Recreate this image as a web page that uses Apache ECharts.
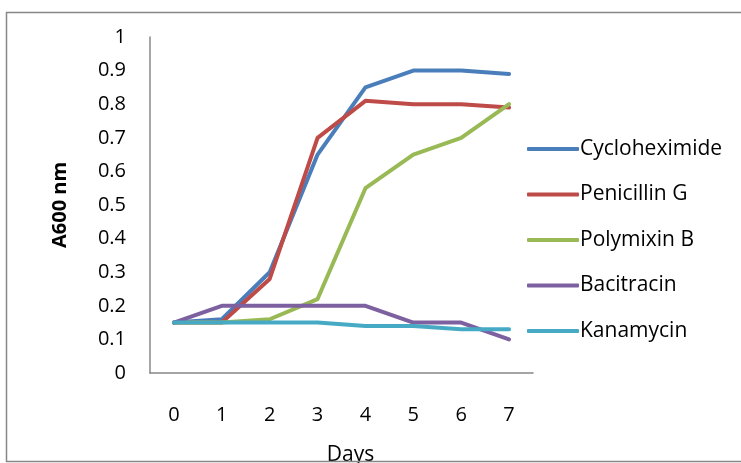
<!DOCTYPE html>
<html>
<head>
<meta charset="utf-8">
<script src="https://cdn.jsdelivr.net/npm/echarts@6/dist/echarts.min.js"></script>
<style>
  html, body { margin: 0; padding: 0; background: #fff; }
  #chart { width: 741px; height: 463px; }
</style>
</head>
<body>
<div id="chart"></div>
<script>
const days = ["0", "1", "2", "3", "4", "5", "6", "7"];
const yTicks = [0, 0.1, 0.2, 0.3, 0.4, 0.5, 0.6, 0.7, 0.8, 0.9, 1];

const cycloheximide = [0.15, 0.16, 0.3, 0.65, 0.85, 0.9, 0.9, 0.89];
const penicillinG = [0.15, 0.15, 0.28, 0.7, 0.81, 0.8, 0.8, 0.79];
const polymixinB = [0.15, 0.15, 0.16, 0.22, 0.55, 0.65, 0.7, 0.8];
const bacitracin = [0.15, 0.2, 0.2, 0.2, 0.2, 0.15, 0.15, 0.1];
const kanamycin = [0.15, 0.15, 0.15, 0.15, 0.14, 0.14, 0.13, 0.13];

const seriesNames = ["Cycloheximide", "Penicillin G", "Polymixin B", "Bacitracin", "Kanamycin"];
const seriesData = [cycloheximide, penicillinG, polymixinB, bacitracin, kanamycin];
const colors = ["#4a7ebb", "#be4b48", "#98b954", "#7d60a0", "#46aac5"];

const font = "'Open Sans', sans-serif";

const chart = echarts.init(document.getElementById("chart"));

const option = {
  animation: false,
  color: colors,
  textStyle: { fontFamily: font },
  graphic: [
    {
      type: "rect",
      shape: { x: 6.5, y: 12.5, width: 760, height: 449 },
      style: { fill: "none", stroke: "#888", lineWidth: 1.5 },
      silent: true,
      z: 100,
    },
  ],
  grid: {
    left: 150,
    right: 208,
    top: 37,
    bottom: 90,
    containLabel: false,
    outerBoundsMode: "none",
  },
  legend: {
    orient: "vertical",
    left: 522,
    top: 132,
    itemGap: 21.5,
    itemWidth: 52,
    itemHeight: 4,
    icon: "roundRect",
    textStyle: {
      fontFamily: font,
      fontSize: 21,
      lineHeight: 24,
      color: "#000",
      padding: [0, 0, 0, -4],
    },
    data: seriesNames.map((n) => ({ name: n, itemStyle: { opacity: 1 } })),
  },
  xAxis: {
    type: "category",
    data: days,
    boundaryGap: true,
    name: "Days",
    nameLocation: "middle",
    nameGap: 72,
    nameTextStyle: { fontFamily: font, fontSize: 21, color: "#000", padding: [0, 0, 0, 18] },
    axisLine: { lineStyle: { color: "#888", width: 1.5 } },
    axisTick: { show: false },
    axisLabel: { fontFamily: font, fontSize: 20, color: "#000", margin: 32 },
  },
  yAxis: {
    type: "value",
    min: yTicks[0],
    max: yTicks[yTicks.length - 1],
    interval: 0.1,
    name: "A600 nm",
    nameLocation: "middle",
    nameGap: 80,
    nameTextStyle: { fontFamily: font, fontSize: 20, fontWeight: "bold", color: "#000" },
    axisLine: { show: true, lineStyle: { color: "#888", width: 1.5 } },
    axisTick: { show: false },
    splitLine: { show: false },
    axisLabel: {
      fontFamily: font,
      fontSize: 20,
      color: "#000",
      margin: 24,
      formatter: (v) => String(Math.round(v * 10) / 10),
    },
  },
  series: seriesNames.map((name, i) => ({
    name: name,
    type: "line",
    data: seriesData[i],
    symbol: "none",
    lineStyle: { width: 4, cap: "round", join: "round" },
  })),
};

chart.setOption(option);
</script>
</body>
</html>
